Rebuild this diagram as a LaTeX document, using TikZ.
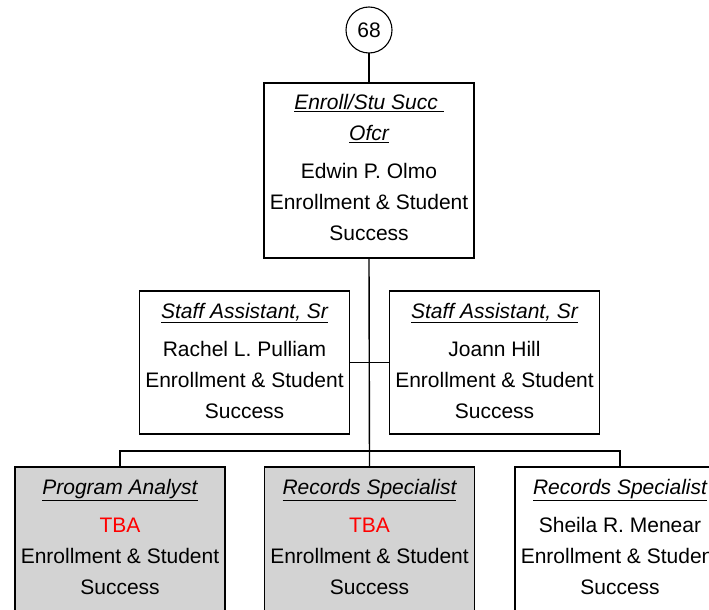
\documentclass[tikz,border=0pt]{standalone}
\usepackage{fontspec}
\setmainfont{Liberation Sans}
\begin{document}
\begin{tikzpicture}[x=1pt,y=-1pt,
  every node/.style={inner sep=0pt, outer sep=0pt},
  line/.style={line width=1.4pt},
  box/.style={draw, line width=1.3pt, minimum width=210pt},
  topbox/.style={box, minimum height=175pt},
  staffbox/.style={box, minimum height=143pt},
  vacbox/.style={box, minimum height=150pt, fill=vacgray},
  filledbox/.style={box, minimum height=150pt},
  txt/.style={align=center, font=\fontsize{21}{31}\selectfont},
  circ/.style={draw, circle, line width=1.1pt, minimum size=46pt, font=\fontsize{21}{24}\selectfont}
]
\definecolor{vacgray}{RGB}{211,211,211}
\definecolor{tbared}{RGB}{255,0,0}
\useasboundingbox (0,0) rectangle (709,610);
\clip (0,0) rectangle (709,610);

% boxes
\node[circ] (c68) at (369,30) {68};
\node[topbox] (top) at (369,170.5) {};
\node[staffbox] (sl) at (244.5,362.5) {};
\node[staffbox] (sr) at (494.5,362.5) {};
\node[vacbox] (b1) at (120,542) {};
\node[vacbox] (b2) at (369.5,542) {};
\node[filledbox] (b3) at (620,542) {};

% texts
\node[txt] (ttop) at (369,167.5) {\textit{\underline{Enroll/Stu Succ\ }}\\\textit{\underline{Ofcr}}\\[7pt]Edwin P. Olmo\\Enrollment \& Student\\Success};
\node[txt] (tsl) at (244.5,360.5) {\textit{\underline{Staff Assistant, Sr}}\\[7pt]Rachel L. Pulliam\\Enrollment \& Student\\Success};
\node[txt] (tsr) at (494.5,360.5) {\textit{\underline{Staff Assistant, Sr}}\\[7pt]Joann Hill\\Enrollment \& Student\\Success};
\node[txt] (tb1) at (120,536.5) {\textit{\underline{Program Analyst}}\\[7pt]\textcolor{tbared}{TBA}\\Enrollment \& Student\\Success};
\node[txt] (tb2) at (369.5,536.5) {\textit{\underline{Records Specialist}}\\[7pt]\textcolor{tbared}{TBA}\\Enrollment \& Student\\Success};
\node[txt] (tb3) at (620,536.5) {\textit{\underline{Records Specialist}}\\[7pt]Sheila R. Menear\\Enrollment \& Student\\Success};

% connectors
\coordinate (bus) at (369.5,451);
\draw[line] (c68.south) -- (top.north);
\draw[line] (top.south) -- (b2.north);
\draw[line] (sl.east) -- (sr.west);
\draw[line] (b1.north) |- (bus) -| (b3.north);
\end{tikzpicture}
\end{document}
